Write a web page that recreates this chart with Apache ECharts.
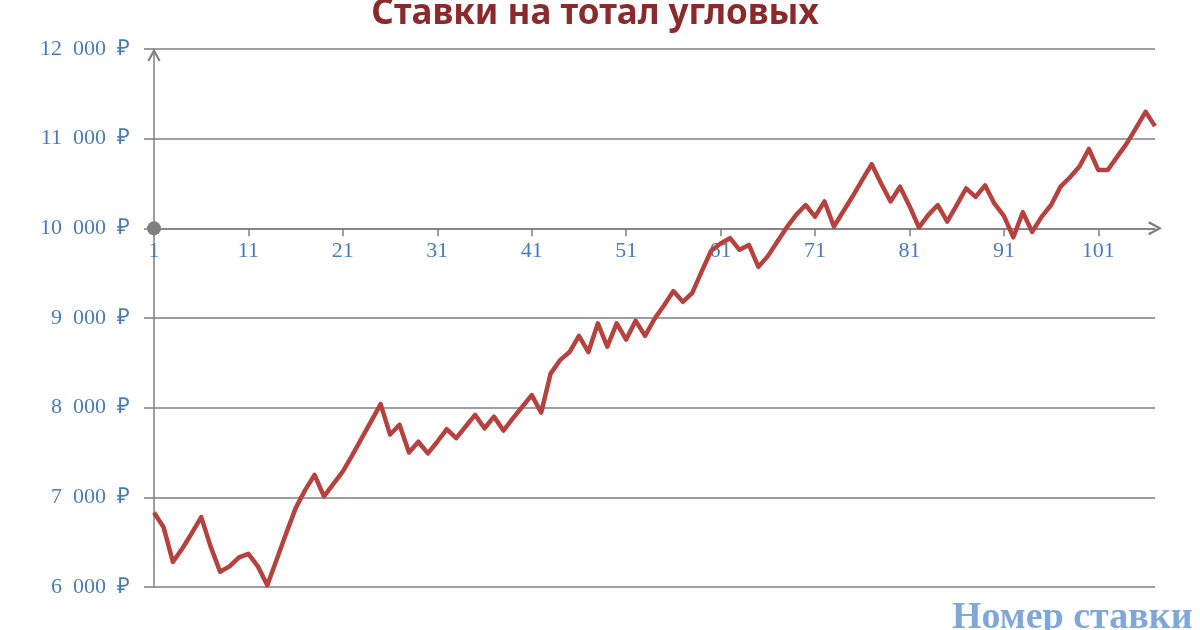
<!DOCTYPE html>
<html><head><meta charset="utf-8">
<script src="https://cdn.jsdelivr.net/npm/echarts@6/dist/echarts.min.js"></script>
<style>html,body{margin:0;padding:0;background:#fff}#c{width:1200px;height:630px}</style>
</head><body><div id="c"></div>
<script>
const titleText = 'Ставки на тотал угловых';
const xAxisName = 'Номер ставки';
const categories = [
  '1','2','3','4','5','6','7','8','9','10','11','12','13','14','15','16','17','18','19','20',
  '21','22','23','24','25','26','27','28','29','30','31','32','33','34','35','36','37','38','39','40',
  '41','42','43','44','45','46','47','48','49','50','51','52','53','54','55','56','57','58','59','60',
  '61','62','63','64','65','66','67','68','69','70','71','72','73','74','75','76','77','78','79','80',
  '81','82','83','84','85','86','87','88','89','90','91','92','93','94','95','96','97','98','99','100',
  '101','102','103','104','105','106','107'
];
const values = [
  6830, 6670, 6280, 6430, 6600, 6780, 6450, 6170, 6230, 6330,
  6370, 6230, 6020, 6310, 6600, 6880, 7080, 7250, 7010, 7150,
  7290, 7470, 7660, 7850, 8040, 7700, 7810, 7500, 7620, 7490,
  7620, 7760, 7660, 7790, 7920, 7770, 7900, 7745, 7880, 8010,
  8140, 7945, 8380, 8530, 8620, 8800, 8620, 8940, 8680, 8940,
  8760, 8970, 8800, 8990, 9140, 9300, 9180, 9280, 9520, 9750,
  9830, 9890, 9760, 9815, 9570, 9690, 9850, 10010, 10150, 10260,
  10130, 10300, 10020, 10190, 10360, 10540, 10715, 10500, 10300, 10465,
  10250, 10010, 10150, 10260, 10075, 10260, 10445, 10350, 10480, 10275,
  10140, 9900, 10180, 9960, 10130, 10260, 10465, 10570, 10690, 10885,
  10650, 10650, 10800, 10945, 11120, 11300, 11140
];
const yTicks = [6000, 7000, 8000, 9000, 10000, 11000, 12000];
const yTickLabels = ['6  000  ₽', '7  000  ₽', '8  000  ₽', '9  000  ₽', '10  000  ₽', '11  000  ₽', '12  000  ₽'];
const yMin = 6000, yMax = 12000, yStep = 1000, xCross = 10000;

const gridTop = 49, gridBottom = 43, gridLeft = 154, gridRight = 45;
const gridH = 630 - gridTop - gridBottom;
const xOffset = -gridH * (xCross - yMin) / (yMax - yMin);
const chevron = 'path://M5,0 L10,9 L8.6,10 L5,3.2 L1.4,10 L0,9 Z';
const axisGray = '#7f7f7f';
const labelBlue = '#4a7bb7';

const chart = echarts.init(document.getElementById('c'));
chart.setOption({
  animation: false,
  backgroundColor: '#fff',
  title: [
    { text: titleText, left: 590, textAlign: 'center', top: -8,
      textStyle: { color: '#8b2a2a', fontSize: 35, fontWeight: 'bold', fontFamily: 'Noto Sans' } },
    { text: xAxisName, left: 947, top: 594,
      textStyle: { color: '#7fa7d9', fontSize: 38, fontWeight: 'bold', fontFamily: 'Liberation Serif' } }
  ],
  grid: { left: gridLeft, right: gridRight, top: gridTop, bottom: gridBottom },
  xAxis: {
    type: 'category', boundaryGap: false, data: categories,
    offset: xOffset,
    axisLine: { show: true, onZero: false, symbol: ['circle', chevron], symbolSize: [14, 14],
      lineStyle: { color: axisGray, width: 1.5 } },
    axisTick: { show: true, interval: 9, length: 8, lineStyle: { color: axisGray, width: 1.5 } },
    axisLabel: { interval: 9, color: labelBlue, fontFamily: 'Liberation Serif', fontSize: 22, margin: 12 },
    splitLine: { show: false }
  },
  yAxis: {
    type: 'value', min: yMin, max: yMax, interval: yStep,
    axisLine: { show: true, symbol: ['none', chevron], symbolSize: [13, 14], symbolOffset: [0, -6],
      lineStyle: { color: axisGray, width: 1.5 } },
    axisTick: { show: true, length: 10, lineStyle: { color: axisGray, width: 1.5 } },
    axisLabel: { color: labelBlue, fontFamily: 'Liberation Serif', fontSize: 22, margin: 24,
      formatter: v => { const i = yTicks.indexOf(v); return i >= 0 ? yTickLabels[i] : ''; } },
    splitLine: { show: true, lineStyle: { color: axisGray, width: 1.5 } }
  },
  series: [{
    type: 'line', data: values, showSymbol: false, smooth: false,
    lineStyle: { color: '#b5423e', width: 4.5, join: 'round' }, z: 5
  }]
});
</script></body></html>
